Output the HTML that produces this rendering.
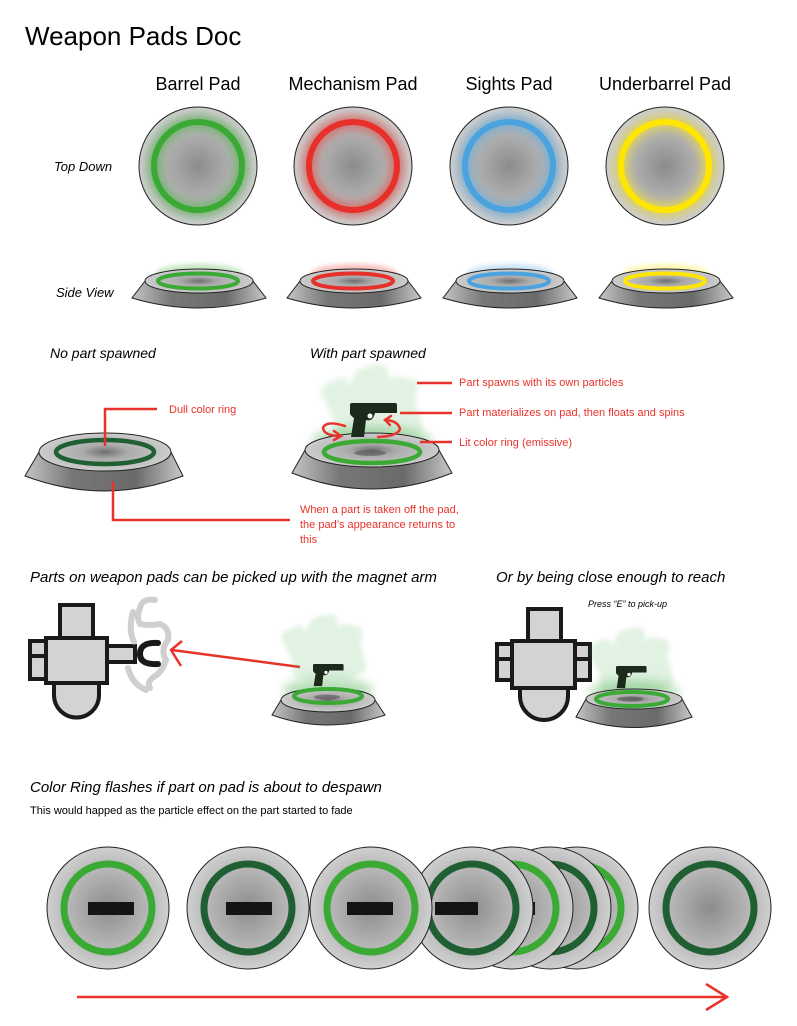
<!DOCTYPE html>
<html><head><meta charset="utf-8"><style>
html,body{margin:0;padding:0;background:#fff;}
svg{display:block;}
text{font-family:"Liberation Sans",sans-serif;}
.it{font-style:italic;}
.red{fill:#e8332a;font-size:11px;}
</style></head><body>
<svg width="797" height="1026" viewBox="0 0 797 1026" xmlns="http://www.w3.org/2000/svg">
<defs>
<radialGradient id="disc" cx="50%" cy="50%" r="50%">
<stop offset="0" stop-color="#8c8c8c"/><stop offset="0.75" stop-color="#bdbdbd"/><stop offset="1" stop-color="#cfcfcf"/>
</radialGradient>
<radialGradient id="top" cx="50%" cy="50%" r="50%">
<stop offset="0" stop-color="#6e6e6e"/><stop offset="0.35" stop-color="#aaaaaa"/><stop offset="1" stop-color="#cdcdcd"/>
</radialGradient>
<linearGradient id="base" x1="0" x2="1" y1="0" y2="0">
<stop offset="0" stop-color="#c4c4c4"/><stop offset="0.3" stop-color="#777"/><stop offset="0.7" stop-color="#6a6a6a"/><stop offset="1" stop-color="#c8c8c8"/>
</linearGradient>
<filter id="blur" x="-50%" y="-50%" width="200%" height="200%"><feGaussianBlur stdDeviation="5"/></filter>
<filter id="blur2" x="-50%" y="-50%" width="200%" height="200%"><feGaussianBlur stdDeviation="2.5"/></filter>
<g id="gun"><path d="M0,2 Q0,0 2,0 H45 Q47,0 47,2 V10 H25 Q23,19 16,17 L14,34 H1 L4,15 Q1,13 0,11 Z" fill="#1c2a1c"/><circle cx="20" cy="13" r="2.5" fill="#fff"/></g>
<g id="smoke" fill="#4caf50" opacity="0.16" filter="url(#blur2)">
<rect x="2" y="12" width="24" height="40" rx="6" transform="rotate(-25 14 32)"/>
<rect x="18" y="4" width="22" height="48" rx="6" transform="rotate(20 29 28)"/>
<rect x="32" y="0" width="24" height="55" rx="6" transform="rotate(-10 44 27)"/>
<rect x="50" y="10" width="24" height="48" rx="6" transform="rotate(12 62 34)"/>
<rect x="58" y="20" width="20" height="40" rx="6" transform="rotate(-15 68 40)"/>
<rect x="8" y="38" width="64" height="26" rx="8"/>
</g>
</defs>

<text x="25" y="45" font-size="26">Weapon Pads Doc</text>
<g font-size="18" text-anchor="middle">
<text x="198" y="90">Barrel Pad</text><text x="353" y="90">Mechanism Pad</text><text x="509" y="90">Sights Pad</text><text x="665" y="90">Underbarrel Pad</text>
</g>
<text x="54" y="171" font-size="13" class="it">Top Down</text>
<text x="56" y="297" font-size="13" class="it">Side View</text>

<!-- Top down -->
<g stroke="#222" stroke-width="1">
<circle cx="198" cy="166" r="59" fill="url(#disc)"/><circle cx="353" cy="166" r="59" fill="url(#disc)"/>
<circle cx="509" cy="166" r="59" fill="url(#disc)"/><circle cx="665" cy="166" r="59" fill="url(#disc)"/>
</g>
<g fill="none" stroke-width="12" filter="url(#blur)" opacity="0.6">
<circle cx="198" cy="166" r="44" stroke="#3aaa35"/><circle cx="353" cy="166" r="44" stroke="#e8302a"/>
<circle cx="509" cy="166" r="44" stroke="#4aa3df"/><circle cx="665" cy="166" r="44" stroke="#ffe600"/>
</g>
<g fill="none" stroke-width="6">
<circle cx="198" cy="166" r="44" stroke="#3aaa35"/><circle cx="353" cy="166" r="44" stroke="#e8302a"/>
<circle cx="509" cy="166" r="44" stroke="#4aa3df"/><circle cx="665" cy="166" r="44" stroke="#ffe600"/>
</g>

<!-- Side views -->
<g fill="none" stroke-width="8" filter="url(#blur2)" opacity="0.3">
<ellipse cx="199" cy="276" rx="40" ry="8" stroke="#3aaa35"/><ellipse cx="354" cy="276" rx="40" ry="8" stroke="#e8302a"/>
<ellipse cx="510" cy="276" rx="40" ry="8" stroke="#4aa3df"/><ellipse cx="666" cy="276" rx="40" ry="8" stroke="#ffe600"/>
</g>
<g stroke="#222" stroke-width="1">
<path d="M145,281 L132,298 Q199,318 266,298 L253,281 Z" fill="url(#base)"/><ellipse cx="199" cy="281" rx="54" ry="12" fill="url(#top)"/>
<path d="M300,281 L287,298 Q354,318 421,298 L408,281 Z" fill="url(#base)"/><ellipse cx="354" cy="281" rx="54" ry="12" fill="url(#top)"/>
<path d="M456,281 L443,298 Q510,318 577,298 L564,281 Z" fill="url(#base)"/><ellipse cx="510" cy="281" rx="54" ry="12" fill="url(#top)"/>
<path d="M612,281 L599,298 Q666,318 733,298 L720,281 Z" fill="url(#base)"/><ellipse cx="666" cy="281" rx="54" ry="12" fill="url(#top)"/>
</g>
<g fill="none" stroke-width="4">
<ellipse cx="198" cy="281" rx="40" ry="7.5" stroke="#3aaa35"/><ellipse cx="353" cy="281" rx="40" ry="7.5" stroke="#e8302a"/>
<ellipse cx="509" cy="281" rx="40" ry="7.5" stroke="#4aa3df"/><ellipse cx="665" cy="281" rx="40" ry="7.5" stroke="#ffe600"/>
</g>

<!-- Middle section -->
<text x="50" y="358" font-size="14" class="it">No part spawned</text>
<text x="310" y="358" font-size="14" class="it">With part spawned</text>

<g stroke="#222" stroke-width="1">
<path d="M39,452 L25,476 Q105,506 183,476 L171,452 Z" fill="url(#base)"/>
<ellipse cx="105" cy="452" rx="66" ry="19" fill="url(#top)"/>
</g>
<ellipse cx="105" cy="452" rx="49" ry="12" fill="none" stroke="#1f5f32" stroke-width="4.5"/>
<path d="M105,446 V409 H157" fill="none" stroke="#e8332a" stroke-width="2.5"/>
<text x="169" y="413" class="red">Dull color ring</text>
<path d="M113,482 V520 H290" fill="none" stroke="#e8332a" stroke-width="2.5"/>
<text x="300" y="513" class="red">When a part is taken off the pad,</text>
<text x="300" y="528" class="red">the pad’s appearance returns to</text>
<text x="300" y="543" class="red">this</text>

<use href="#smoke" transform="translate(325,365) scale(1.2)"/>
<ellipse cx="372" cy="440" rx="60" ry="14" fill="#4caf50" opacity="0.4" filter="url(#blur)"/>
<g stroke="#222" stroke-width="1">
<path d="M305,450 L292,473 Q372,505 452,473 L439,450 Z" fill="url(#base)"/>
<ellipse cx="372" cy="450" rx="67" ry="17" fill="url(#top)"/>
</g>
<ellipse cx="372" cy="452" rx="48" ry="11" fill="none" stroke="#3aaa35" stroke-width="4.5"/>
<ellipse cx="370" cy="453" rx="16" ry="3" fill="#555" opacity="0.6"/>
<use href="#gun" transform="translate(350,403)"/>
<g fill="none" stroke="#e8332a" stroke-width="2.5" stroke-linecap="round">
<path d="M345,426 Q326,420 323,428 Q324,436 341,436"/><path d="M334,431 L341,436 L334,440"/>
<path d="M378,437 Q398,436 400,429 Q398,421 386,420"/><path d="M391,416 L385,420 L390,425"/>
</g>
<g stroke="#e8332a" stroke-width="2.5">
<line x1="417" y1="383" x2="452" y2="383"/><line x1="400" y1="413" x2="452" y2="413"/><line x1="420" y1="442" x2="452" y2="442"/>
</g>
<text x="459" y="386" class="red">Part spawns with its own particles</text>
<text x="459" y="416" class="red">Part materializes on pad, then floats and spins</text>
<text x="459" y="446" class="red">Lit color ring (emissive)</text>

<!-- Robots section -->
<text x="30" y="582" font-size="15" class="it">Parts on weapon pads can be picked up with the magnet arm</text>
<text x="496" y="582" font-size="15" class="it">Or by being close enough to reach</text>
<text x="588" y="607" font-size="9" class="it">Press “E” to pick-up</text>

<g fill="#d3d3d3" stroke="#1a1a1a" stroke-width="4">
<rect x="60" y="605" width="33" height="33"/>
<path d="M54,683 V695 A22.5,22.5 0 0 0 99,695 V683 Z"/>
<rect x="30" y="641" width="16" height="38"/>
<line x1="30" y1="656" x2="46" y2="656"/>
<rect x="107" y="646" width="28" height="16"/>
<rect x="46" y="638" width="61" height="45"/>
</g>
<path d="M158,643 Q140,642 140,654 Q140,665 158,664" fill="none" stroke="#1a1a1a" stroke-width="6" stroke-linecap="round"/>
<g fill="none" stroke="#a8a8a8" stroke-width="6" stroke-linecap="round" opacity="0.55">
<path d="M155,600 Q142,598 140,608 Q136,618 140,624 Q150,626 160,624 Q170,628 168,640 Q160,650 166,660 Q162,672 155,676 Q146,682 150,688"/>
<path d="M133,612 Q128,630 134,642"/><path d="M128,668 Q132,684 146,690"/>
</g>
<g fill="none" stroke="#e8332a" stroke-width="2.5">
<line x1="300" y1="667" x2="172" y2="650"/><path d="M182,641 L171,650 L181,666"/>
</g>

<use href="#smoke" transform="translate(285,615) scale(1.0)"/>
<ellipse cx="328" cy="690" rx="45" ry="12" fill="#4caf50" opacity="0.4" filter="url(#blur)"/>
<g stroke="#222" stroke-width="1">
<path d="M281,700 L272,715 Q328,735 385,715 L375,700 Z" fill="url(#base)"/>
<ellipse cx="328" cy="700" rx="47" ry="12" fill="url(#top)"/>
</g>
<ellipse cx="328" cy="696" rx="34" ry="7" fill="none" stroke="#3aaa35" stroke-width="4"/>
<ellipse cx="327" cy="697" rx="13" ry="2.5" fill="#555" opacity="0.6"/>
<use href="#gun" transform="translate(313,664) scale(0.65)"/>

<g fill="#d3d3d3" stroke="#1a1a1a" stroke-width="4">
<rect x="528" y="609" width="33" height="32"/>
<path d="M520,688 V696 A24,24 0 0 0 568,696 V688 Z"/>
<rect x="497" y="644" width="15" height="36"/><line x1="497" y1="659" x2="512" y2="659"/>
<rect x="575" y="644" width="15" height="36"/><line x1="575" y1="659" x2="590" y2="659"/>
<rect x="512" y="641" width="63" height="47"/>
</g>
<use href="#smoke" transform="translate(592,628) scale(1.0)"/>
<ellipse cx="634" cy="692" rx="45" ry="12" fill="#4caf50" opacity="0.4" filter="url(#blur)"/>
<g stroke="#222" stroke-width="1">
<path d="M586,699 L576,717 Q634,738 692,717 L682,699 Z" fill="url(#base)"/>
<ellipse cx="634" cy="699" rx="48" ry="10" fill="url(#top)"/>
</g>
<ellipse cx="632" cy="699" rx="36" ry="7" fill="none" stroke="#3aaa35" stroke-width="4"/>
<ellipse cx="630" cy="699" rx="13" ry="2.5" fill="#555" opacity="0.6"/>
<use href="#gun" transform="translate(616,666) scale(0.65)"/>

<!-- Bottom -->
<text x="30" y="792" font-size="15" class="it">Color Ring flashes if part on pad is about to despawn</text>
<text x="30" y="814" font-size="11">This would happed as the particle effect on the part started to fade</text>

<circle cx="577" cy="908" r="61" fill="url(#disc)" stroke="#222"/>
<circle cx="577" cy="908" r="44" fill="none" stroke="#3aaa35" stroke-width="7"/>
<circle cx="550" cy="908" r="61" fill="url(#disc)" stroke="#222"/>
<circle cx="550" cy="908" r="44" fill="none" stroke="#1f5f32" stroke-width="7"/>
<rect x="527" y="902" width="46" height="13" fill="#141414"/>
<circle cx="512" cy="908" r="61" fill="url(#disc)" stroke="#222"/>
<circle cx="512" cy="908" r="44" fill="none" stroke="#3aaa35" stroke-width="7"/>
<rect x="489" y="902" width="46" height="13" fill="#141414"/>
<circle cx="472" cy="908" r="61" fill="url(#disc)" stroke="#222"/>
<circle cx="472" cy="908" r="44" fill="none" stroke="#1f5f32" stroke-width="7"/>
<rect x="435" y="902" width="43" height="13" fill="#141414"/>

<circle cx="371" cy="908" r="61" fill="url(#disc)" stroke="#222"/>
<circle cx="371" cy="908" r="44" fill="none" stroke="#3aaa35" stroke-width="7"/>
<rect x="347" y="902" width="46" height="13" fill="#141414"/>
<circle cx="248" cy="908" r="61" fill="url(#disc)" stroke="#222"/>
<circle cx="248" cy="908" r="44" fill="none" stroke="#1f5f32" stroke-width="7"/>
<rect x="226" y="902" width="46" height="13" fill="#141414"/>
<circle cx="108" cy="908" r="61" fill="url(#disc)" stroke="#222"/>
<circle cx="108" cy="908" r="44" fill="none" stroke="#3aaa35" stroke-width="7"/>
<rect x="88" y="902" width="46" height="13" fill="#141414"/>
<circle cx="710" cy="908" r="61" fill="url(#disc)" stroke="#222"/>
<circle cx="710" cy="908" r="44" fill="none" stroke="#1f5f32" stroke-width="7"/>

<g fill="none" stroke="#e8332a" stroke-width="2.5">
<line x1="77" y1="997" x2="726" y2="997"/><path d="M706,984 L727,997 L706,1010"/>
</g>
</svg>
</body></html>
